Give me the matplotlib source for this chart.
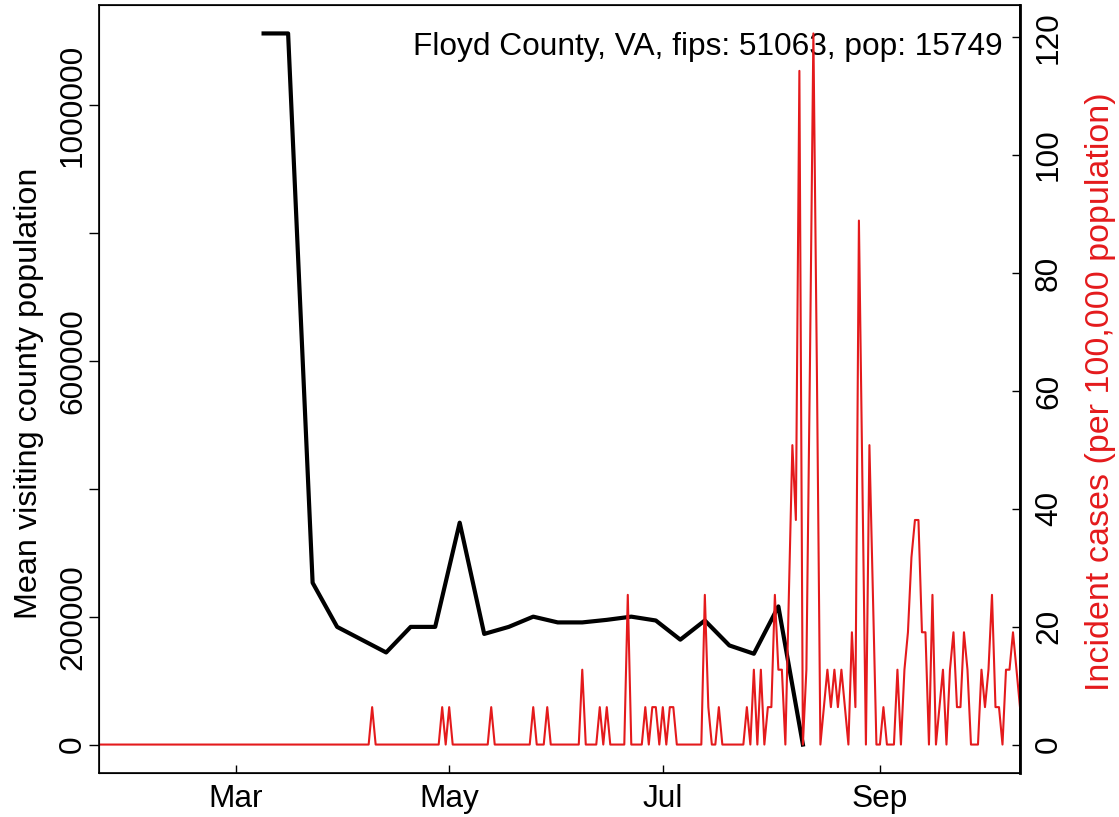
import matplotlib
matplotlib.use('agg')

import matplotlib.pyplot as plt
import pandas as pd

plt.rcParams['font.family'] = ['Liberation Sans', 'DejaVu Sans']

TITLE = "Floyd County, VA, fips: 51063, pop: 15749"
POPULATION = 15749
RED = '#E41A1C'

# weekly mean visiting county population (one point per Monday)
visit_dates = pd.date_range('2020-03-09', '2020-08-10', freq='7D')
visit_pop = [1112000, 1112000, 253000, 184000, 164000, 144000, 184000, 184000,
             347000, 173000, 184000, 200000, 191000, 191000, 195000, 200000,
             194000, 164000, 194000, 155000, 142000, 216000, 0]

# daily new cases, Jan 22 .. Oct 11
case_dates = pd.date_range('2020-01-22', '2020-10-11', freq='D')
daily_cases = (
    [0, 0, 0, 0, 0, 0, 0, 0, 0, 0]                                    # Jan 22-31
    + [0, 0, 0, 0, 0, 0, 0, 0, 0, 0, 0, 0, 0, 0, 0, 0, 0, 0, 0, 0,
       0, 0, 0, 0, 0, 0, 0, 0, 0]                                     # Feb
    + [0, 0, 0, 0, 0, 0, 0, 0, 0, 0, 0, 0, 0, 0, 0, 0, 0, 0, 0, 0,
       0, 0, 0, 0, 0, 0, 0, 0, 0, 0, 0]                                # Mar
    + [0, 0, 0, 0, 0, 0, 0, 0, 1, 0, 0, 0, 0, 0, 0, 0, 0, 0, 0, 0,
       0, 0, 0, 0, 0, 0, 0, 0, 1, 0]                                   # Apr
    + [1, 0, 0, 0, 0, 0, 0, 0, 0, 0, 0, 0, 1, 0, 0, 0, 0, 0, 0, 0,
       0, 0, 0, 0, 1, 0, 0, 0, 1, 0, 0]                                # May
    + [0, 0, 0, 0, 0, 0, 0, 2, 0, 0, 0, 0, 1, 0, 1, 0, 0, 0, 0, 0,
       4, 0, 0, 0, 0, 1, 0, 1, 1, 0]                                   # Jun
    + [1, 0, 1, 1, 0, 0, 0, 0, 0, 0, 0, 0, 4, 1, 0, 0, 1, 0, 0, 0,
       0, 0, 0, 0, 1, 0, 2, 0, 2, 0, 1]                                # Jul
    + [1, 4, 2, 2, 0, 4, 8, 6, 18, 0, 2, 10, 19, 10, 0, 1, 2, 1, 2, 1,
       2, 1, 0, 3, 1, 14, 7, 0, 8, 4, 0]                               # Aug
    + [0, 1, 0, 0, 0, 2, 0, 2, 3, 5, 6, 6, 3, 3, 0, 4, 0, 1, 2, 0,
       2, 3, 1, 1, 3, 2, 0, 0, 0, 2]                                   # Sep
    + [1, 2, 4, 1, 1, 0, 2, 2, 3, 2, 1]                                # Oct 1-11
)
incidence = [c * 100000 / POPULATION for c in daily_cases]

month_ticks = pd.to_datetime(['2020-03-01', '2020-05-01', '2020-07-01', '2020-09-01'])
month_labels = ['Mar', 'May', 'Jul', 'Sep']
left_ticks = [0, 200000, 400000, 600000, 800000, 1000000]
left_labels = ['0', '200000', '', '600000', '', '1000000']
right_ticks = [0, 20, 40, 60, 80, 100, 120]

FS = 22.8

fig = plt.figure(figsize=(11.19, 8.17), dpi=100)
ax = fig.add_axes([99 / 1119, 44 / 817, 921 / 1119, 768 / 817])

ax.plot(visit_dates, visit_pop, color='black', linewidth=3)
top = max(visit_pop)
ax.set_ylim(-0.04 * top, top * 1.04)
ax.set_xlim(pd.Timestamp('2020-01-22'), pd.Timestamp('2020-10-11'))

ax.set_xticks(month_ticks)
ax.set_xticklabels(month_labels)
ax.set_yticks(left_ticks)
ax.set_yticklabels(left_labels, rotation=90, va='center')
ax.tick_params(axis='x', direction='in', length=6, width=1, labelsize=FS, pad=8)
ax.tick_params(axis='y', direction='out', length=7, width=1, labelsize=FS, pad=1)
for s in ax.spines.values():
    s.set_linewidth(1.2)

ax.text(0.9815, 0.945, TITLE, transform=ax.transAxes, ha='right', va='center',
        fontsize=FS)

ax2 = ax.twinx()
ax2.plot(case_dates, incidence, color=RED, linewidth=1.5)
rtop = max(incidence)
ax2.set_ylim(-0.04 * rtop, rtop * 1.04)
ax2.set_yticks(right_ticks)
ax2.set_yticklabels([str(t) for t in right_ticks], rotation=90, va='center')
ax2.tick_params(axis='y', direction='in', length=6, width=1, labelsize=FS, pad=10)
ax2.spines['right'].set_linewidth(2)
ax2.set_xlim(pd.Timestamp('2020-01-22'), pd.Timestamp('2020-10-11'))

# axis titles placed in figure pixels
fig.text(29 / 1119, 1 - 393 / 817, "Mean visiting county population",
         rotation=90, ha='center', va='center', fontsize=23.3)
fig.text(1100 / 1119, 1 - 392 / 817, "Incident cases (per 100,000 population)",
         rotation=90, ha='center', va='center', fontsize=24.5, color=RED)

fig.savefig('out.png', dpi=100)
